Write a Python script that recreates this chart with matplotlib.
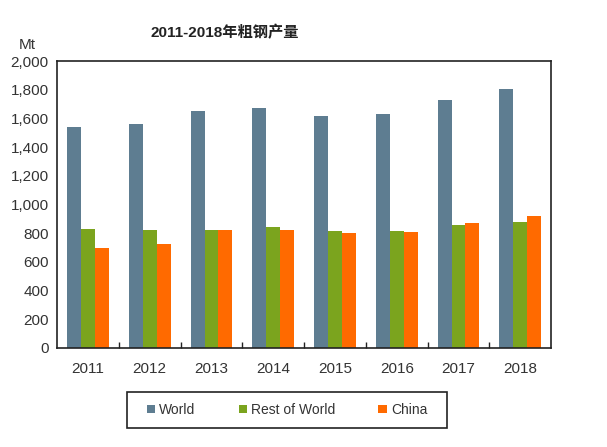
import numpy as np
import matplotlib
matplotlib.use("Agg")
import matplotlib.pyplot as plt
from matplotlib.patches import Rectangle

plt.rcParams['font.family'] = ['Liberation Sans', 'Noto Sans CJK SC', 'DejaVu Sans']

# data (Mt)
years = ['2011', '2012', '2013', '2014', '2015', '2016', '2017', '2018']
world = [1540, 1560, 1650, 1670, 1620, 1630, 1730, 1808]
rest_of_world = [830, 822, 822, 842, 812, 812, 860, 878]
china = [700, 724, 822, 822, 804, 806, 870, 922]
yticks = [0, 200, 400, 600, 800, 1000, 1200, 1400, 1600, 1800, 2000]

fig = plt.figure(figsize=(6.07, 4.47), dpi=100)
ax = fig.add_axes([0.094, 0.2215, 0.814, 0.642])

x = np.arange(len(years))
w = 0.225
ax.bar(x - w, world, w, color='#5E7D91', label='World')
ax.bar(x, rest_of_world, w, color='#7BA41E', label='Rest of World')
ax.bar(x + w, china, w, color='#FF6A00', label='China')

ax.set_xlim(-0.5, len(years) - 0.5)
ax.set_ylim(0, 2000)
ax.set_yticks(yticks)
ax.set_yticklabels([f'{v:,}' for v in yticks], fontsize=11, color='#333333')
ax.tick_params(axis='y', length=0, pad=6)

# category labels under groups, tick marks between groups
ax.set_xticks(x)
ax.set_xticklabels(years, fontsize=11, color='#333333')
ax.tick_params(axis='x', length=0, pad=10)
ax.set_xticks(x[:-1] + 0.5, minor=True)
ax.tick_params(axis='x', which='minor', direction='in', length=4, width=1, color='#222222')

for s in ax.spines.values():
    s.set_color('#222222')
    s.set_linewidth(1.2)

fig.text(0.37, 0.928, '2011-2018年粗钢产量', ha='center', va='center',
         fontsize=11, fontweight='bold', color='#222222',
         family=['Liberation Sans', 'Noto Sans CJK SC'])
fig.text(0.045, 0.9, 'Mt', ha='center', va='center', fontsize=11, color='#333333')

leg = fig.legend(loc='center', bbox_to_anchor=(0.473, 0.083), ncol=3,
                 fontsize=10, frameon=False,
                 handlelength=0.6, handleheight=0.6, handletextpad=0.3,
                 columnspacing=3.1)
for t in leg.get_texts():
    t.set_color('#333333')

# legend box
fig.patches.append(Rectangle((0.209, 0.0425), 0.527, 0.0805, transform=fig.transFigure,
                             fill=False, edgecolor='#222222', linewidth=1.2))

fig.savefig('out.png', dpi=100)
